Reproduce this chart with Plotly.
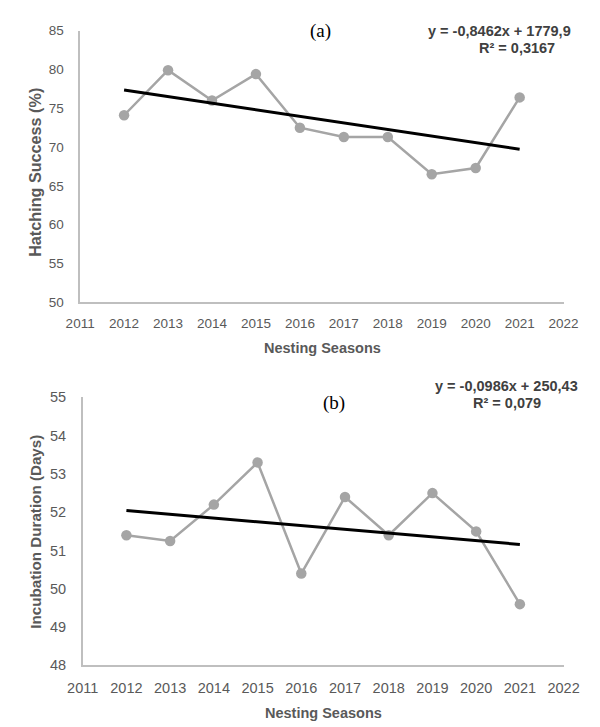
import plotly.graph_objects as go

# ---- data ----
seasons = [2012, 2013, 2014, 2015, 2016, 2017, 2018, 2019, 2020, 2021]
hatching_success = [74.1, 79.9, 76.0, 79.4, 72.5, 71.3, 71.3, 66.5, 67.3, 76.4]
incubation_days = [51.4, 51.25, 52.2, 53.3, 50.4, 52.4, 51.4, 52.5, 51.5, 49.6]

trend_a_slope, trend_a_intercept = -0.8462, 1779.9
trend_b_slope, trend_b_intercept = -0.0986, 250.43

eq_a = ["y = -0,8462x + 1779,9", "R² = 0,3167"]
eq_b = ["y = -0,0986x + 250,43", "R² = 0,079"]
panel_labels = ["(a)", "(b)"]
x_title = "Nesting Seasons"
y_titles = ["Hatching Success (%)", "Incubation Duration (Days)"]
x_ticks = list(range(2011, 2023))

W, H = 600, 727
GREY = "#a5a5a5"
AXIS = "#bfbfbf"
TICK = "#595959"
FONT = "Liberation Sans, Arial, sans-serif"


def px(x, y):
    return x / W, 1 - y / H


fig = go.Figure()

trend_x = [seasons[0], seasons[-1]]
for i, (vals, slope, icpt) in enumerate([
    (hatching_success, trend_a_slope, trend_a_intercept),
    (incubation_days, trend_b_slope, trend_b_intercept),
]):
    xa = "x" if i == 0 else "x2"
    ya = "y" if i == 0 else "y2"
    fig.add_trace(go.Scatter(
        x=seasons, y=vals, mode="lines+markers", xaxis=xa, yaxis=ya,
        line=dict(color=GREY, width=2.5),
        marker=dict(color=GREY, size=10.5),
        hoverinfo="skip",
    ))
    fig.add_trace(go.Scatter(
        x=trend_x, y=[slope * t + icpt for t in trend_x], mode="lines",
        xaxis=xa, yaxis=ya, line=dict(color="black", width=3),
        hoverinfo="skip",
    ))

common_x = dict(range=[2011, 2022], tickmode="array", tickvals=x_ticks,
                showline=True, linecolor=AXIS, linewidth=1.5,
                showgrid=False, zeroline=False, ticks="",
                ticklabelstandoff=8)
common_y = dict(showline=True, linecolor=AXIS, linewidth=1.5,
                showgrid=False, zeroline=False, ticks="",
                ticklabelstandoff=12)

x0a, _ = px(59.3, 0)
x1a, _ = px(570, 0)
_, y1a = px(0, 15)
_, y0a = px(0, 292.7)
x0b, _ = px(62, 0)
x1b, _ = px(570, 0)
_, y1b = px(0, 390)
_, y0b = px(0, 664)

fig.update_layout(
    width=W, height=H, autosize=False,
    margin=dict(l=0, r=0, t=0, b=0),
    paper_bgcolor="white", plot_bgcolor="white",
    showlegend=False,
    xaxis=dict(domain=[x0a, x1a], anchor="y",
               tickfont=dict(family=FONT, size=13.5, color=TICK), **common_x),
    yaxis=dict(domain=[y0a, y1a], anchor="x", range=[50, 85], dtick=5, tick0=50,
               tickfont=dict(family=FONT, size=13.5, color=TICK), **common_y),
    xaxis2=dict(domain=[x0b, x1b], anchor="y2",
                tickfont=dict(family=FONT, size=14.5, color=TICK), **common_x),
    yaxis2=dict(domain=[y0b, y1b], anchor="x2", range=[48, 55], dtick=1, tick0=48,
                tickfont=dict(family=FONT, size=14.5, color=TICK), **common_y),
)

ann = []


def add_text(text, x, y, size, color="#404040", bold=False, family=FONT, angle=0):
    ax, ay = px(x, y)
    t = f"<b>{text}</b>" if bold else text
    ann.append(dict(text=t, x=ax, y=ay, xref="paper", yref="paper",
                    xanchor="center", yanchor="middle", showarrow=False,
                    textangle=angle, font=dict(family=family, size=size, color=color)))


SERIF = "Liberation Serif, Times New Roman, serif"

# panel (a)
add_text(panel_labels[0], 313, 15, 19, color="black", family=SERIF)
add_text(eq_a[0], 502, 15, 14.5, bold=True)
add_text(eq_a[1], 521, 33, 14.5, bold=True)
add_text(x_title, 315, 339, 14.5, color=TICK, bold=True)
add_text(y_titles[0], 12, 160, 16.2, color=TICK, bold=True, angle=-90)

# panel (b)
add_text(panel_labels[1], 327, 396, 19, color="black", family=SERIF)
add_text(eq_b[0], 510, 378, 14.5, bold=True)
add_text(eq_b[1], 510, 396, 14.5, bold=True)
add_text(x_title, 316, 713, 14.5, color=TICK, bold=True)
add_text(y_titles[1], 12, 527, 15.2, color=TICK, bold=True, angle=-90)

fig.update_layout(annotations=ann)

fig.write_html("out.html")
